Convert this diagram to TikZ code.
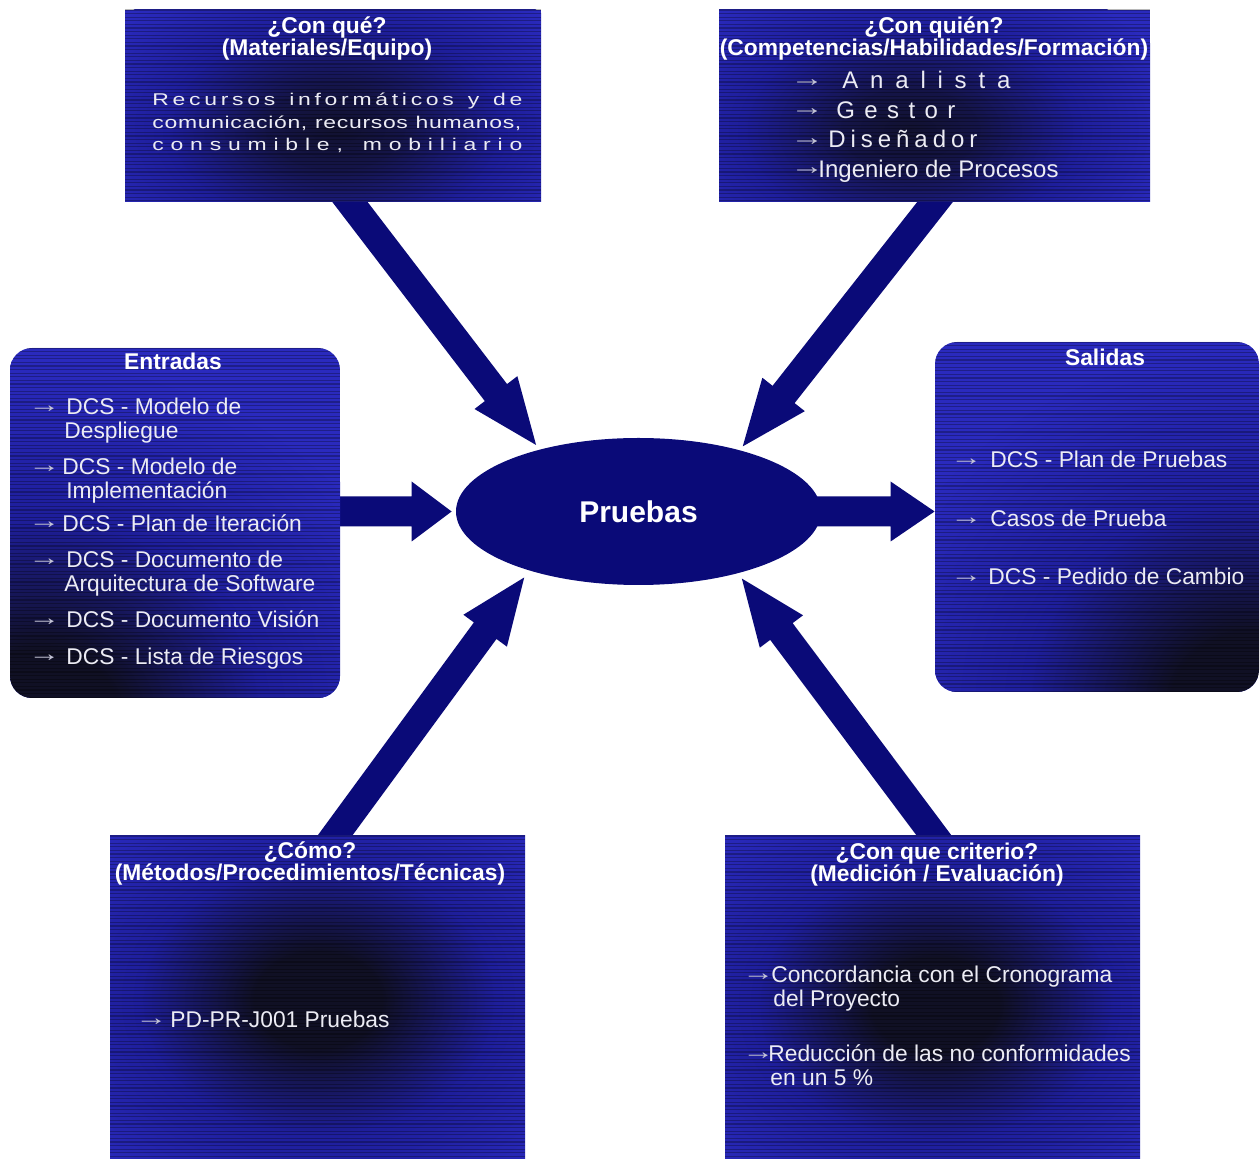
\documentclass[tikz,border=0pt]{standalone}
\usepackage{fontspec}
\setmainfont{Liberation Sans}
\newfontfamily\widesans[FakeStretch=1.35]{Liberation Sans}
\usetikzlibrary{calc,shapes.geometric}

\definecolor{navy}{RGB}{10,10,120}
\definecolor{boxedge}{RGB}{42,42,190}
\definecolor{boxblue}{RGB}{30,30,155}
\definecolor{boxdark}{RGB}{16,16,36}
\definecolor{bodytext}{RGB}{236,236,244}
\definecolor{arrowgrey}{RGB}{196,196,214}

% dark glow inside a panel, fading to its lighter rim (path edge = 25bp)
\pgfdeclareradialshading{boxspot}{\pgfpoint{0bp}{0bp}}{%
  color(0bp)=(boxdark); color(5bp)=(boxdark); color(14bp)=(boxblue); color(25bp)=(boxedge); color(50bp)=(boxedge)}
\pgfdeclareradialshading{softspot}{\pgfpoint{0bp}{0bp}}{%
  color(0bp)=(boxdark!90!boxblue); color(6bp)=(boxdark!70!boxblue); color(15bp)=(boxblue); color(25bp)=(boxedge); color(50bp)=(boxedge)}

\pgfdeclarelayer{under}
\pgfdeclarelayer{arrowlayer}
\pgfsetlayers{under,arrowlayer,main}

% letters spread evenly over a given width
\newcommand\spreadout[2]{\makebox[#1][s]{\spreadtok#2\relax\hskip 0pt plus -1fil}}
\def\spreadtok#1{\ifx\relax#1\else#1\hfil\expandafter\spreadtok\fi}

% small bullet arrow in front of list items
\newcommand\itemarr{\makebox[0pt][l]{\textcolor{arrowgrey}{\raisebox{0.1em}{\scalebox{1.4}[1]{→}}}}}

% striped, shaded panel and its named node
% #1 name, #2 x1, #3 y1, #4 x2, #5 y2, #6 corner radius, #7 shading, #8 glow ellipse
\newcommand\panel[8]{%
  \begin{scope}
    \clip[rounded corners=#6] (#2,#3) rectangle (#4,#5);
    \fill[boxedge] (#2,#3) rectangle (#4,#5);
    \shade[shading=#7] #8;
    \foreach \k in {0,...,99}{\draw[stripe] (#2,#3+\k*3.6) -- (#4,#3+\k*3.6);}
  \end{scope}
  \node[inner sep=0, rounded corners=#6, minimum width={(#4-#2)*0.5pt},
        minimum height={(#5-#3)*0.5pt}] (#1) at ({(#2+#4)/2},{(#3+#5)/2}) {};
}

% thick block arrow: #1 start, #2 tip, #3 half shaft, #4 half head, #5 head length
\newcommand\fatarrow[5]{%
  \coordinate (fab) at ($(#2)!#5!(#1)$);
  \fill[navy] ($(#1)!#3!90:(#2)$) -- ($(fab)!#3!90:(#2)$) -- ($(fab)!#4!90:(#2)$)
    -- (#2) -- ($(fab)!#4!-90:(#2)$) -- ($(fab)!#3!-90:(#2)$) -- ($(#1)!#3!-90:(#2)$) -- cycle;
}

\begin{document}
\begin{tikzpicture}[x=0.5pt,y=-0.5pt,
  stripe/.style={draw=black, draw opacity=0.28, line width=0.6pt},
  ttl/.style={text=white, font=\fontsize{11.4}{11}\selectfont\bfseries, align=center, inner sep=0},
  lst/.style={text=bodytext, font=\fontsize{11.4}{11.5}\selectfont, inner sep=0, anchor=base west}]

\begin{pgfonlayer}{under}
  \fill[white] (0,0) rectangle (1260,1159);
\end{pgfonlayer}
\useasboundingbox (0,0) rectangle (1260,1159);

% panels
\panel{q1}{125}{10}{541}{202}{0pt}{softspot}{(335,128) ellipse (140pt and 85pt)}
\panel{q2}{719}{10}{1150}{202}{0pt}{softspot}{(910,130) ellipse (140pt and 85pt)}
\panel{ent}{10}{348}{340}{698}{11pt}{boxspot}{(40,720) ellipse (200pt and 180pt)}
\panel{sal}{935}{342}{1259}{692}{11pt}{boxspot}{(1250,705) ellipse (200pt and 180pt)}
\panel{como}{110}{836}{525}{1159}{0pt}{boxspot}{(318,1000) ellipse (160pt and 120pt)}
\panel{crit}{725}{836}{1140}{1159}{0pt}{boxspot}{(935,1005) ellipse (160pt and 120pt)}

% central process
\node[ellipse, fill=navy, inner sep=0, minimum width=182.5pt, minimum height=73.5pt,
      text=white, font=\fontsize{15}{18}\selectfont\bfseries] (pr) at (638.5,511.5) {Pruebas};

% titles
\node[ttl] (q1t) at (327,39) {¿Con qué?\\(Materiales/Equipo)};
\node[ttl] (q2t) at (934,39) {¿Con quién?\\(Competencias/Habilidades/Formación)};
\node[ttl] (entt) at (173,361) {Entradas};
\node[ttl] (salt) at (1105,357) {Salidas};
\node[ttl] (comot) at (310,864) {¿Cómo?\\(Métodos/Procedimientos/Técnicas)};
\node[ttl] (critt) at (937,865) {¿Con que criterio?\\(Medición / Evaluación)};

% panel contents
\node[lst, font=\widesans\fontsize{8.5}{11.25}\selectfont] (q1b) at (152,106) {\begin{tabular}[t]{@{}l@{}}
  \spreadout{185pt}{Recursos~informáticos~y~de}\\
  \spreadout{184.5pt}{comunicación,~recursos~humanos,}\\
  \spreadout{185pt}{consumible,~mobiliario}
\end{tabular}};

\node[lst, font=\fontsize{12}{14.75}\selectfont] (q2b) at (790,88.6) {\begin{tabular}[t]{@{}l@{}}
  \itemarr\hspace{26pt}\spreadout{84pt}{Analista}\\
  \itemarr\hspace{23pt}\spreadout{59.5pt}{Gestor}\\
  \itemarr\hspace{19pt}\spreadout{74.5pt}{Diseñador}\\
  \itemarr\hspace{14pt}Ingeniero de Procesos
\end{tabular}};

\node[lst] (entb) at (28,415) {\begin{tabular}[t]{@{}l@{}}
  \itemarr\hspace{19pt}DCS - Modelo de\\
  \hspace{18pt}Despliegue\\[6.5pt]
  \itemarr\hspace{17pt}DCS - Modelo de\\
  \hspace{19pt}Implementación\\[4.5pt]
  \itemarr\hspace{17pt}DCS - Plan de Iteración\\[6.5pt]
  \itemarr\hspace{19pt}DCS - Documento de\\
  \hspace{18pt}Arquitectura de Software\\[6.5pt]
  \itemarr\hspace{19pt}DCS - Documento Visión\\[6.5pt]
  \itemarr\hspace{19pt}DCS - Lista de Riesgos
\end{tabular}};

\node[lst] (salb) at (950,468) {\begin{tabular}[t]{@{}l@{}}
  \itemarr\hspace{20pt}DCS - Plan de Pruebas\\[17.5pt]
  \itemarr\hspace{20pt}Casos de Prueba\\[17.5pt]
  \itemarr\hspace{19pt}DCS - Pedido de Cambio
\end{tabular}};

\node[lst] (comob) at (135,1028) {\itemarr\hspace{17.5pt}PD-PR-J001 Pruebas};

\node[lst, font=\fontsize{11.4}{12}\selectfont] (critb) at (742,983) {\begin{tabular}[t]{@{}l@{}}
  \itemarr\hspace{14.5pt}Concordancia con el Cronograma\\
  \hspace{15.5pt}del Proyecto\\[15.5pt]
  \itemarr\hspace{13pt}Reducción de las no conformidades\\
  \hspace{14pt}en un 5 \%
\end{tabular}};

% connector end points
\coordinate (qas) at ($(q1.south west)+(218,-10)$);
\coordinate (qae) at ($(pr.center)!1.06!(pr.147)$);
\coordinate (qbs) at ($(q2.south west)+(224,-10)$);
\coordinate (qbe) at ($(pr.center)!1.05!(pr.32)$);
\coordinate (qcs) at ($(como.north west)+(218,10)$);
\coordinate (qce) at ($(pr.center)!1.09!(pr.210)$);
\coordinate (qds) at ($(crit.north west)+(217,10)$);
\coordinate (qde) at ($(pr.center)!1.07!(pr.327)$);
\coordinate (ins) at ($(ent.east |- pr.west)+(-8,0)$);
\coordinate (ine) at ($(pr.west)+(-4,0)$);
\coordinate (outs) at ($(pr.east)+(-10,0)$);
\coordinate (oute) at (sal.west |- pr.east);

% block arrows, beneath panels and ellipse
\begin{pgfonlayer}{arrowlayer}
  \fatarrow{qas}{qae}{7pt}{13.5pt}{33pt}
  \fatarrow{qbs}{qbe}{7pt}{13.5pt}{33pt}
  \fatarrow{qcs}{qce}{7pt}{13.5pt}{33pt}
  \fatarrow{qds}{qde}{7pt}{13.5pt}{33pt}
  \fatarrow{ins}{ine}{7.5pt}{15pt}{20pt}
  \fatarrow{outs}{oute}{7.5pt}{15pt}{22pt}
\end{pgfonlayer}
\end{tikzpicture}
\end{document}
